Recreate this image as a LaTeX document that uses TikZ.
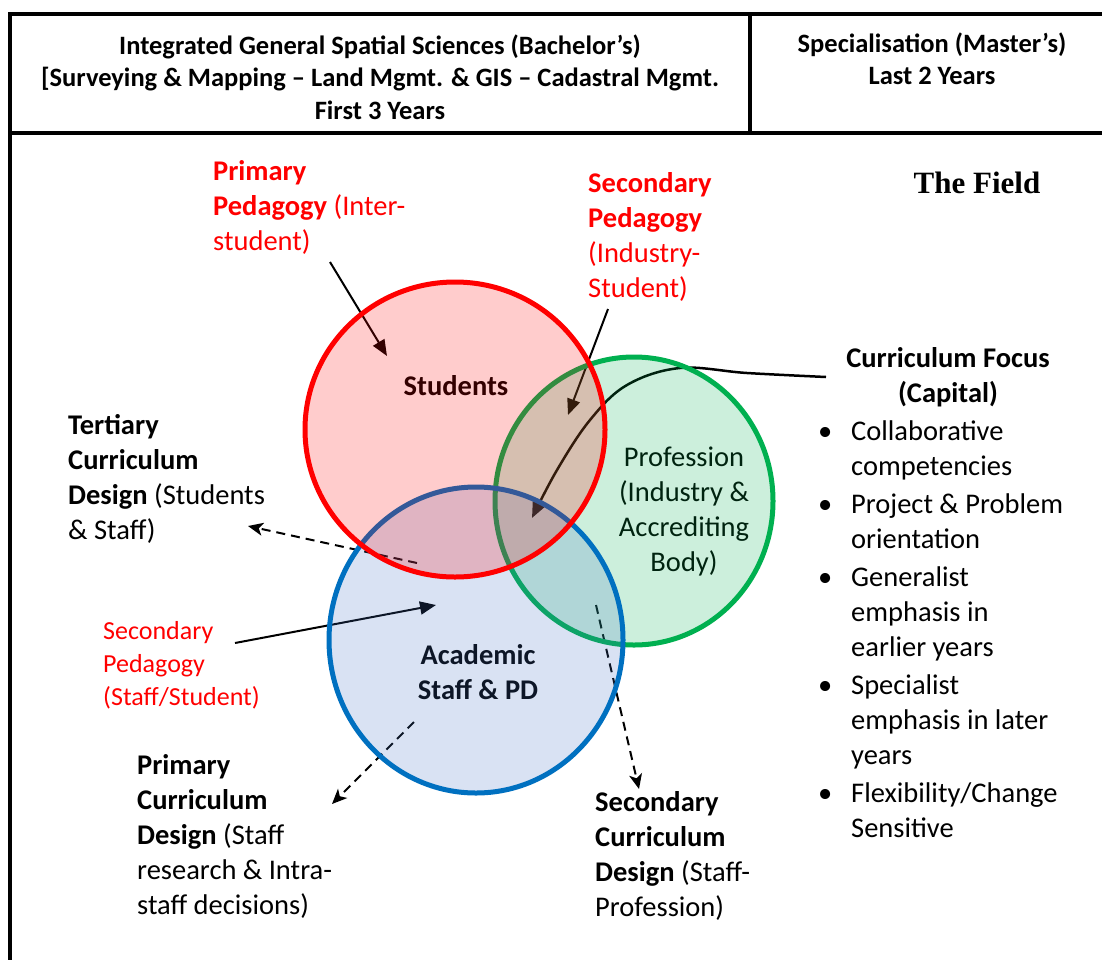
\documentclass[tikz,border=0pt]{standalone}
\usepackage{fontspec}
\setmainfont{Carlito}
\newfontfamily\timesbold{Liberation Serif}
\usetikzlibrary{arrows.meta,shapes.geometric}
\definecolor{grn}{RGB}{0,176,80}
\definecolor{blu}{RGB}{0,112,192}
\definecolor{blufill}{RGB}{68,114,196}
\definecolor{rd}{RGB}{255,0,0}
\newcommand{\myfs}{\fontsize{28.5pt}{35pt}\selectfont}
\newcommand{\myhfs}{\fontsize{26.5pt}{32.5pt}\selectfont\bfseries}
\newcommand{\mysfs}{\fontsize{26pt}{33pt}\selectfont}
\newcommand{\mybul}{\llap{•\hspace{19pt}}}
\begin{document}
\begin{tikzpicture}[x=1pt,y=-1pt,
  lbl/.style={anchor=north west, inner sep=0pt, align=left, font=\myfs},
  ctr/.style={inner sep=0pt, align=center, font=\myfs},
  hdr/.style={inner sep=0pt, align=center, font=\myhfs},
  arr/.style={line width=2pt, -{Triangle[length=16pt, width=13pt]}},
  darr/.style={line width=2pt, dash pattern=on 9pt off 6pt, -{Stealth[length=15pt, width=13pt, inset=4pt]}},
  venn/.style={ellipse, inner sep=0pt, line width=5pt, fill opacity=0.2},
  frame/.style={line width=4pt}
]
\useasboundingbox (0,0) rectangle (1102,959);
\fill[white] (0,0) rectangle (1102,959);

% frame
\draw[frame] (1110,14) -- (10,14) -- (10,970);
\draw[frame] (8,132.5) -- (1110,132.5);
\draw[frame] (750,14) -- (750,132.5);

% header texts
\node[hdr] (hleft) at (380,77) {Integrated General Spatial Sciences (Bachelor’s)\\{[}Surveying \& Mapping \textendash{} Land Mgmt. \& GIS \textendash{} Cadastral Mgmt.\\First 3 Years};
\node[hdr] (hright) at (932,59) {Specialisation (Master’s)\\Last 2 Years};

\node[inner sep=0pt, font=\timesbold\bfseries\fontsize{31pt}{36pt}\selectfont] (field) at (977,183) {The Field};

% labels
\node[lbl, text=rd] (pped) at (213,160) {\textbf{Primary}\\\textbf{Pedagogy} (Inter-\\student)};
\node[lbl, text=rd] (sped) at (588,172) {\textbf{Secondary}\\\textbf{Pedagogy}\\(Industry-\\Student)};
\node[lbl] (tcd) at (68,414) {\textbf{Tertiary}\\\textbf{Curriculum}\\\textbf{Design} (Students\\\& Staff)};
\node[lbl, font=\mysfs, text=rd] (sps) at (103,621) {Secondary\\Pedagogy\\(Staff/Student)};
\node[lbl] (pcd) at (137,754) {\textbf{Primary}\\\textbf{Curriculum}\\\textbf{Design} (Staff\\research \& Intra-\\staff decisions)};
\node[lbl] (scd) at (595,791) {\textbf{Secondary}\\\textbf{Curriculum}\\\textbf{Design} (Staff-\\Profession)};
\node[ctr, anchor=north, font=\myfs\bfseries] (cf) at (948,347) {Curriculum Focus\\(Capital)};
\node[lbl] (list) at (851,420) {\mybul Collaborative\\competencies\\[3pt]
\mybul Project \& Problem\\orientation\\[3pt]
\mybul Generalist\\emphasis in\\earlier years\\[3pt]
\mybul Specialist\\emphasis in later\\years\\[3pt]
\mybul Flexibility/Change\\Sensitive};

% circle texts (under the translucent fills)
\node[ctr, font=\myfs\bfseries] (stuT) at (456,386) {Students};
\node[ctr] (proT) at (684,511) {Profession\\(Industry \&\\Accrediting\\Body)};
\node[ctr, font=\myfs\bfseries] (acaT) at (478,672) {Academic\\Staff \& PD};

% connector end points
\coordinate (ppS) at (330,262);
\coordinate (ppE) at (387,356);
\coordinate (spS) at (608,309);
\coordinate (spE) at (568,415);
\coordinate (cfS) at (826,377);
\coordinate (cfE) at (532,518);
\coordinate (spsS) at (235,643);
\coordinate (spsE) at (436,605);
\coordinate (tcdS) at (417,563);
\coordinate (tcdE) at (248,526);
\coordinate (pcdS) at (414,722);
\coordinate (pcdE) at (332,804);
\coordinate (scdS) at (596,605);
\coordinate (scdE) at (639,789);

\draw[arr] (ppS) -- (ppE);
\draw[arr] (spS) -- (spE);
\draw[arr, line width=2.5pt] plot[smooth, tension=0.6] coordinates {(cfS) (747,373) (680,368) (627,385) (590,420) (557,470) (cfE)};
\draw[arr] (spsS) -- (spsE);
\draw[darr] (tcdS) -- (tcdE);
\draw[darr] (pcdS) -- (pcdE);
\draw[darr] (scdS) -- (scdE);

% circles
\node[venn, draw=grn, fill=grn, minimum width=278pt, minimum height=288pt] (pro) at (634,501) {};
\node[venn, draw=blu, fill=blufill, minimum width=294pt, minimum height=306pt] (aca) at (476,640) {};
\node[venn, draw=rd, fill=rd, minimum width=300pt, minimum height=295pt] (stu) at (455,429.5) {};
\end{tikzpicture}
\end{document}
